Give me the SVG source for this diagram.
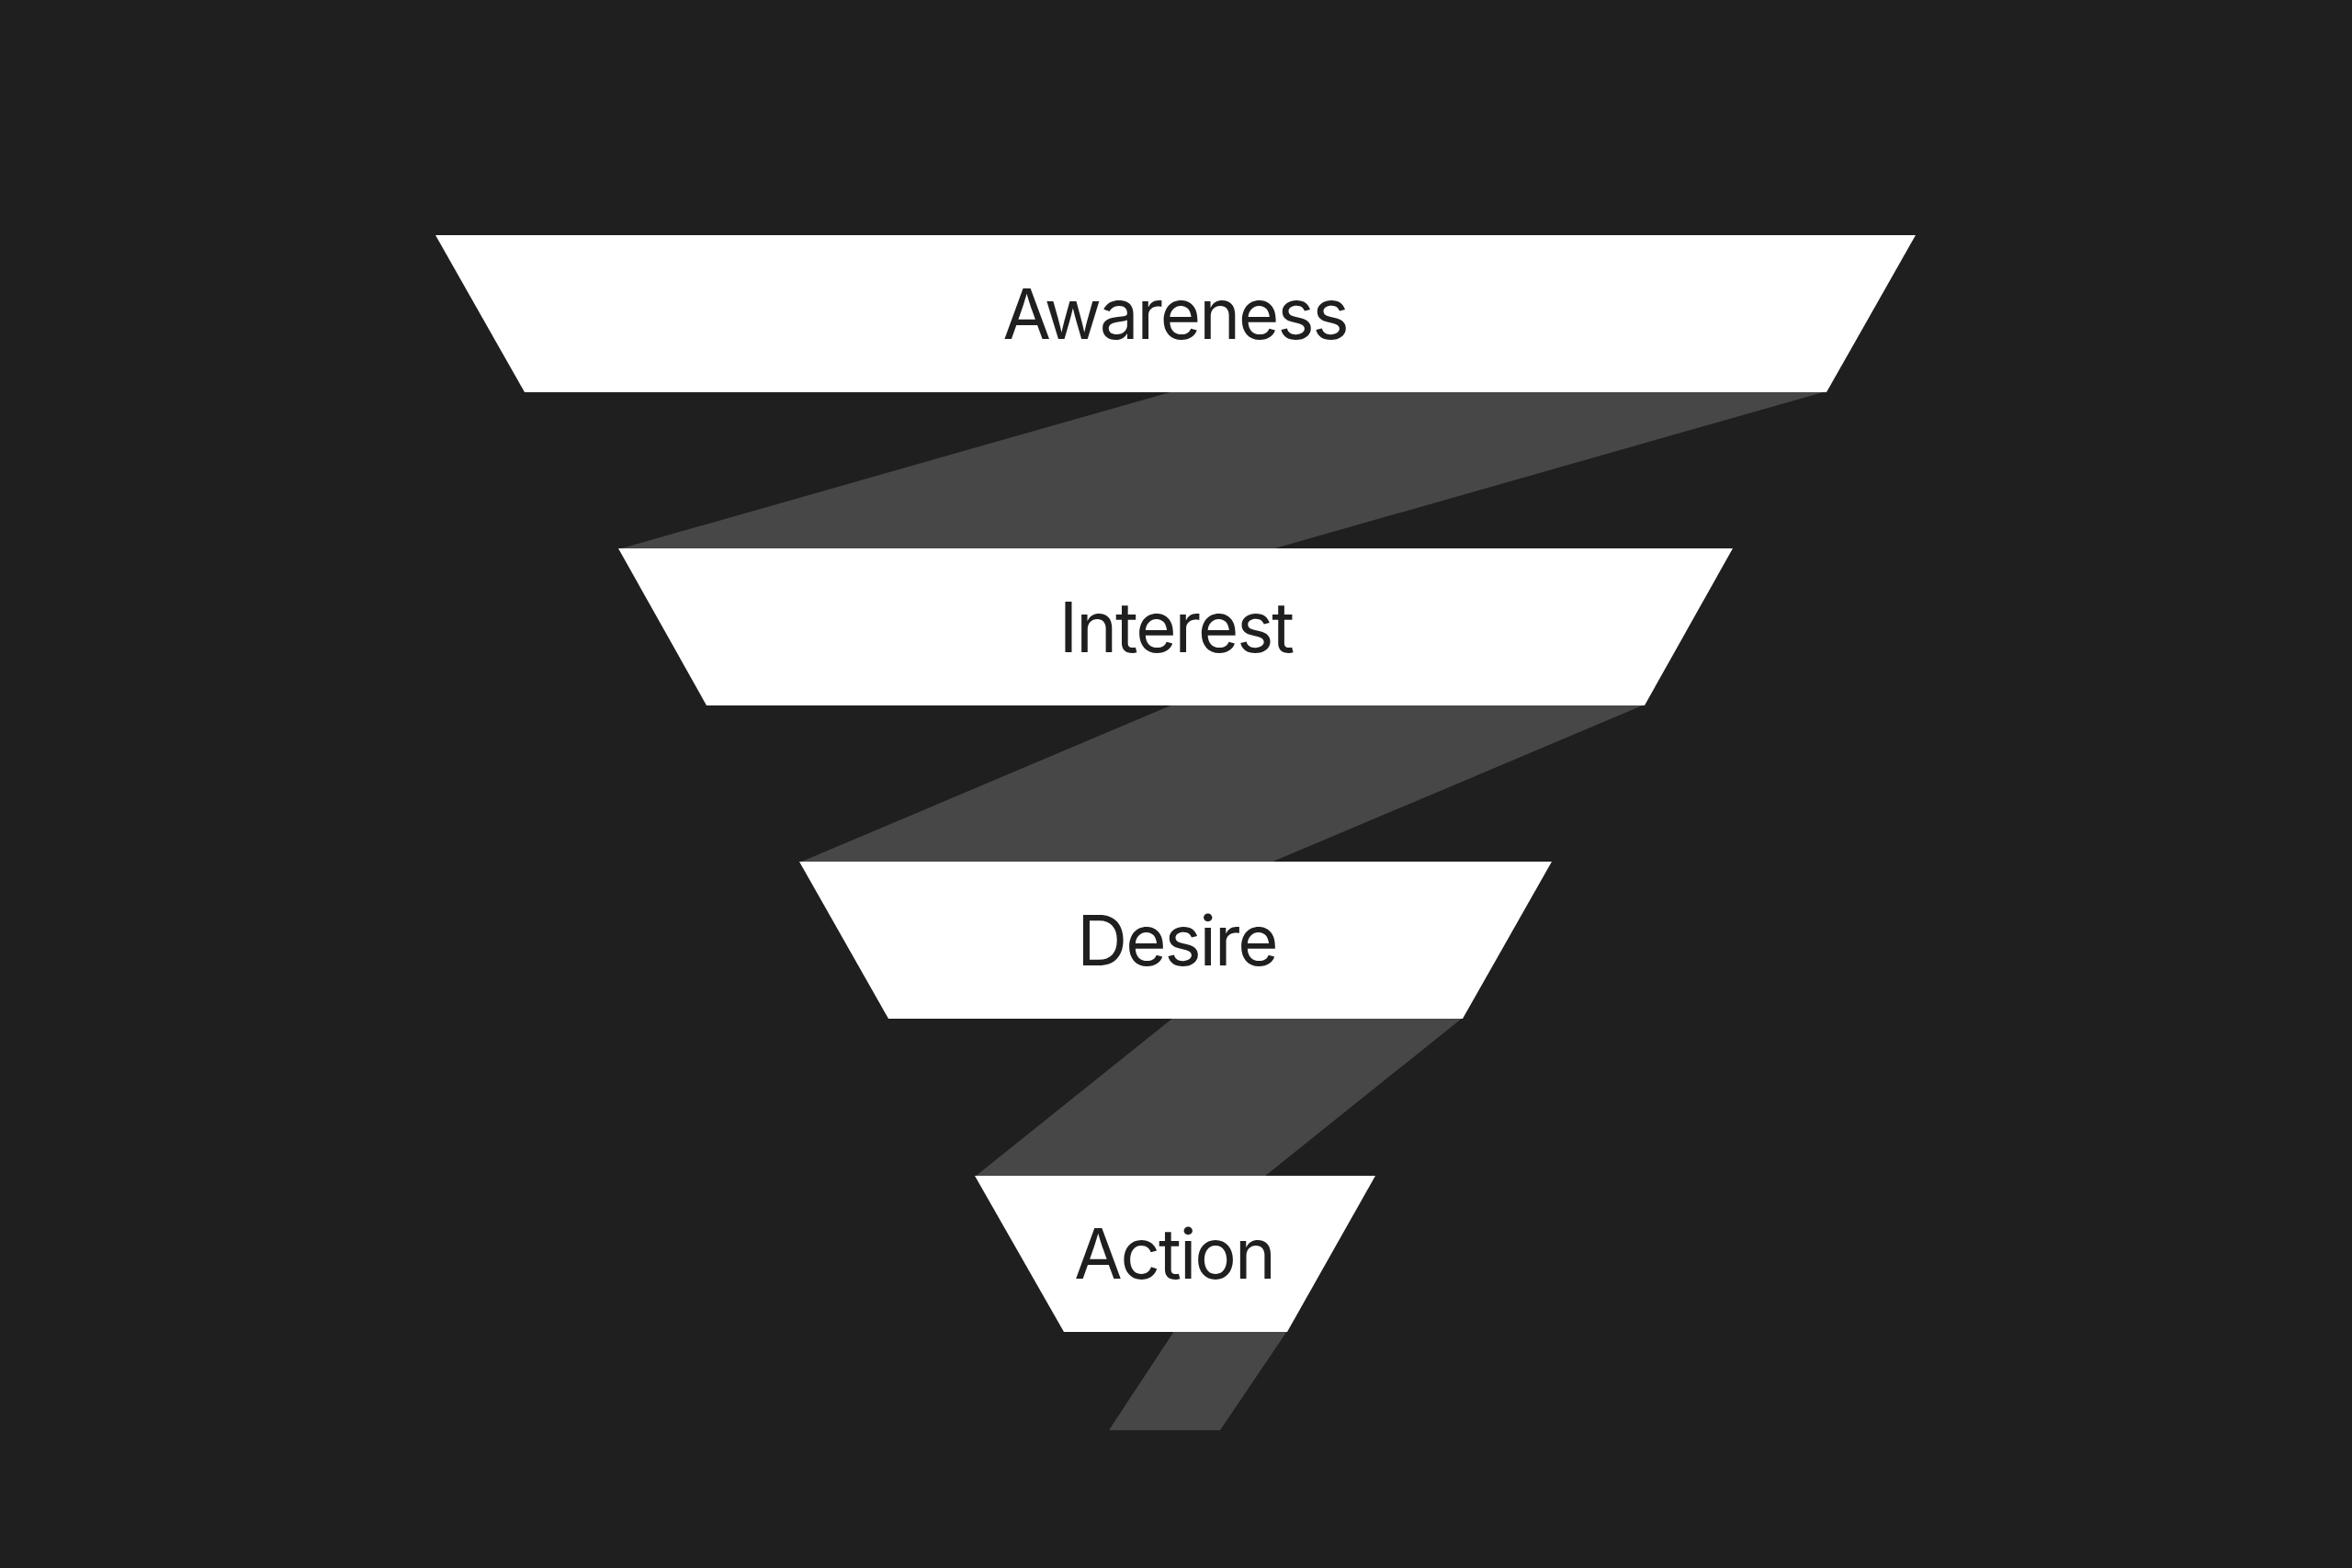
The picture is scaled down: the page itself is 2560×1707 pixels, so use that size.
<svg xmlns="http://www.w3.org/2000/svg" width="2560" height="1707" viewBox="0 0 2560 1707">
  <style>
    .bg { fill: #1f1f1f; }
    .band { fill: #474747; }
    .stage { fill: #ffffff; }
    .label { font-family: Inter, "Liberation Sans", sans-serif; font-size: 76px; font-weight: 400; letter-spacing: -2px; fill: #1f1f1f; text-anchor: middle; }
  </style>
  <rect class="bg" x="0" y="0" width="2560" height="1707"/>
  <g id="connectors">
    <polygon class="band" points="1277,426 1988,426 1384,598 673,598"/>
    <polygon class="band" points="1277,767 1790,767 1383,939 870,939"/>
    <polygon class="band" points="1277,1108 1592,1108 1376,1281 1061,1281"/>
    <polygon class="band" points="1278,1449 1401,1449 1328,1557 1207,1557"/>
  </g>
  <g id="awareness">
    <polygon class="stage" points="474,256 2085,256 1988,427 571,427"/>
    <text class="label" x="1279" y="369">Awareness</text>
  </g>
  <g id="interest">
    <polygon class="stage" points="673,597 1886,597 1790,768 769,768"/>
    <text class="label" x="1280" y="710">Interest</text>
  </g>
  <g id="desire">
    <polygon class="stage" points="870,938 1689,938 1592,1109 967,1109"/>
    <text class="label" x="1281" y="1051">Desire</text>
  </g>
  <g id="action">
    <polygon class="stage" points="1061,1280 1497,1280 1401,1450 1158,1450"/>
    <text class="label" x="1278" y="1392">Action</text>
  </g>
</svg>
